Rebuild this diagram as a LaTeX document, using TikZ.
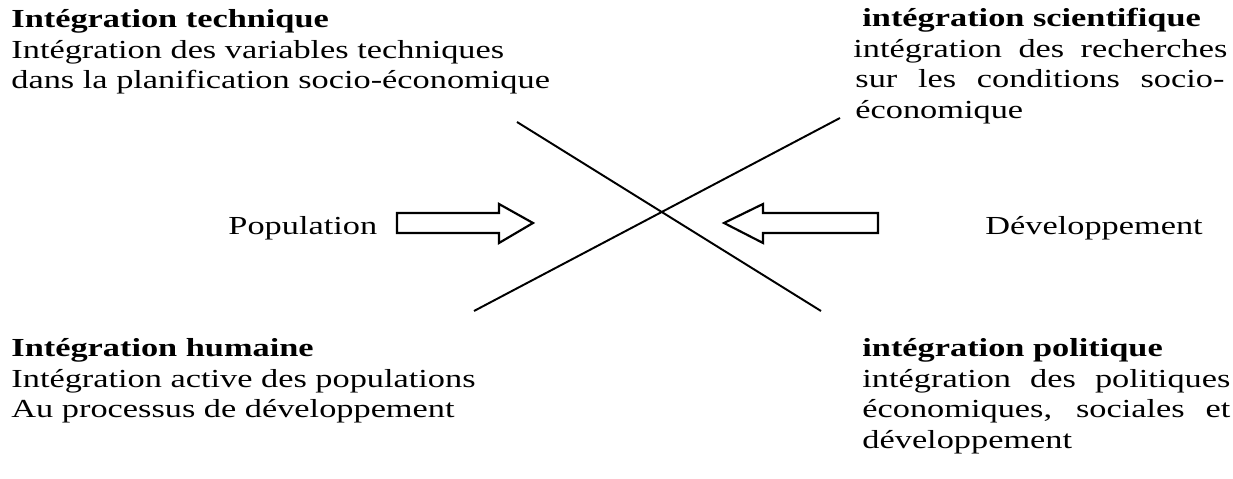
\documentclass[tikz,border=0pt]{standalone}
\usepackage{fontspec}
\setmainfont[FakeStretch=1.32]{Liberation Serif}
\begin{document}
\begin{tikzpicture}[x=0.4615pt,y=-0.4615pt,
        every node/.style={font=\fontsize{12}{13.8}\selectfont, inner sep=0pt, anchor=base west},
        titre/.style={font=\fontsize{12}{13.8}\selectfont\bfseries},
        fleche/.style={draw, line width=1pt, line join=miter},
        trait/.style={line width=0.9pt}]
    \useasboundingbox (0,0) rectangle (1233,479);

    % haut gauche
    \node[titre] (tech) at (11,28) {Intégration technique};
    \node (tech1) at (11,58.5) {Intégration des variables techniques};
    \node (tech2) at (11,89) {dans la planification socio-économique};

    % haut droite
    \node[titre] (scien) at (862,27) {intégration scientifique};
    \node (scien1) at (853,57.5) {\makebox[172.6pt][s]{intégration des recherches}};
    \node (scien2) at (855,88) {\makebox[170.3pt][s]{sur les conditions socio-}};
    \node (scien3) at (855,118.5) {économique};

    % bas gauche
    \node[titre] (hum) at (11,357) {Intégration humaine};
    \node (hum1) at (11,387.5) {Intégration active des populations};
    \node (hum2) at (11,418) {Au processus de développement};

    % bas droite
    \node[titre] (pol) at (862,357) {intégration politique};
    \node (pol1) at (862,387.5) {\makebox[169.8pt][s]{intégration des politiques}};
    \node (pol2) at (862,418) {\makebox[169.8pt][s]{économiques, sociales et}};
    \node (pol3) at (862,448.5) {développement};

    % milieu
    \node (popu) at (228,235) {Population};
    \node (dev) at (985,235) {Développement};

    \draw[fleche] (397,213) -- (499,213) -- (499,204) -- (533,223) -- (499,243) -- (499,233) -- (397,233) -- cycle;
    \draw[fleche] (878,213) -- (763,213) -- (763,204) -- (724,223) -- (763,243) -- (763,233) -- (878,233) -- cycle;

    \coordinate (hg) at (517,122);
    \coordinate (bd) at (821,311);
    \coordinate (bg) at (474,311);
    \coordinate (hd) at (840,118);
    \draw[trait] (hg) -- (bd);
    \draw[trait] (bg) -- (hd);
\end{tikzpicture}
\end{document}
